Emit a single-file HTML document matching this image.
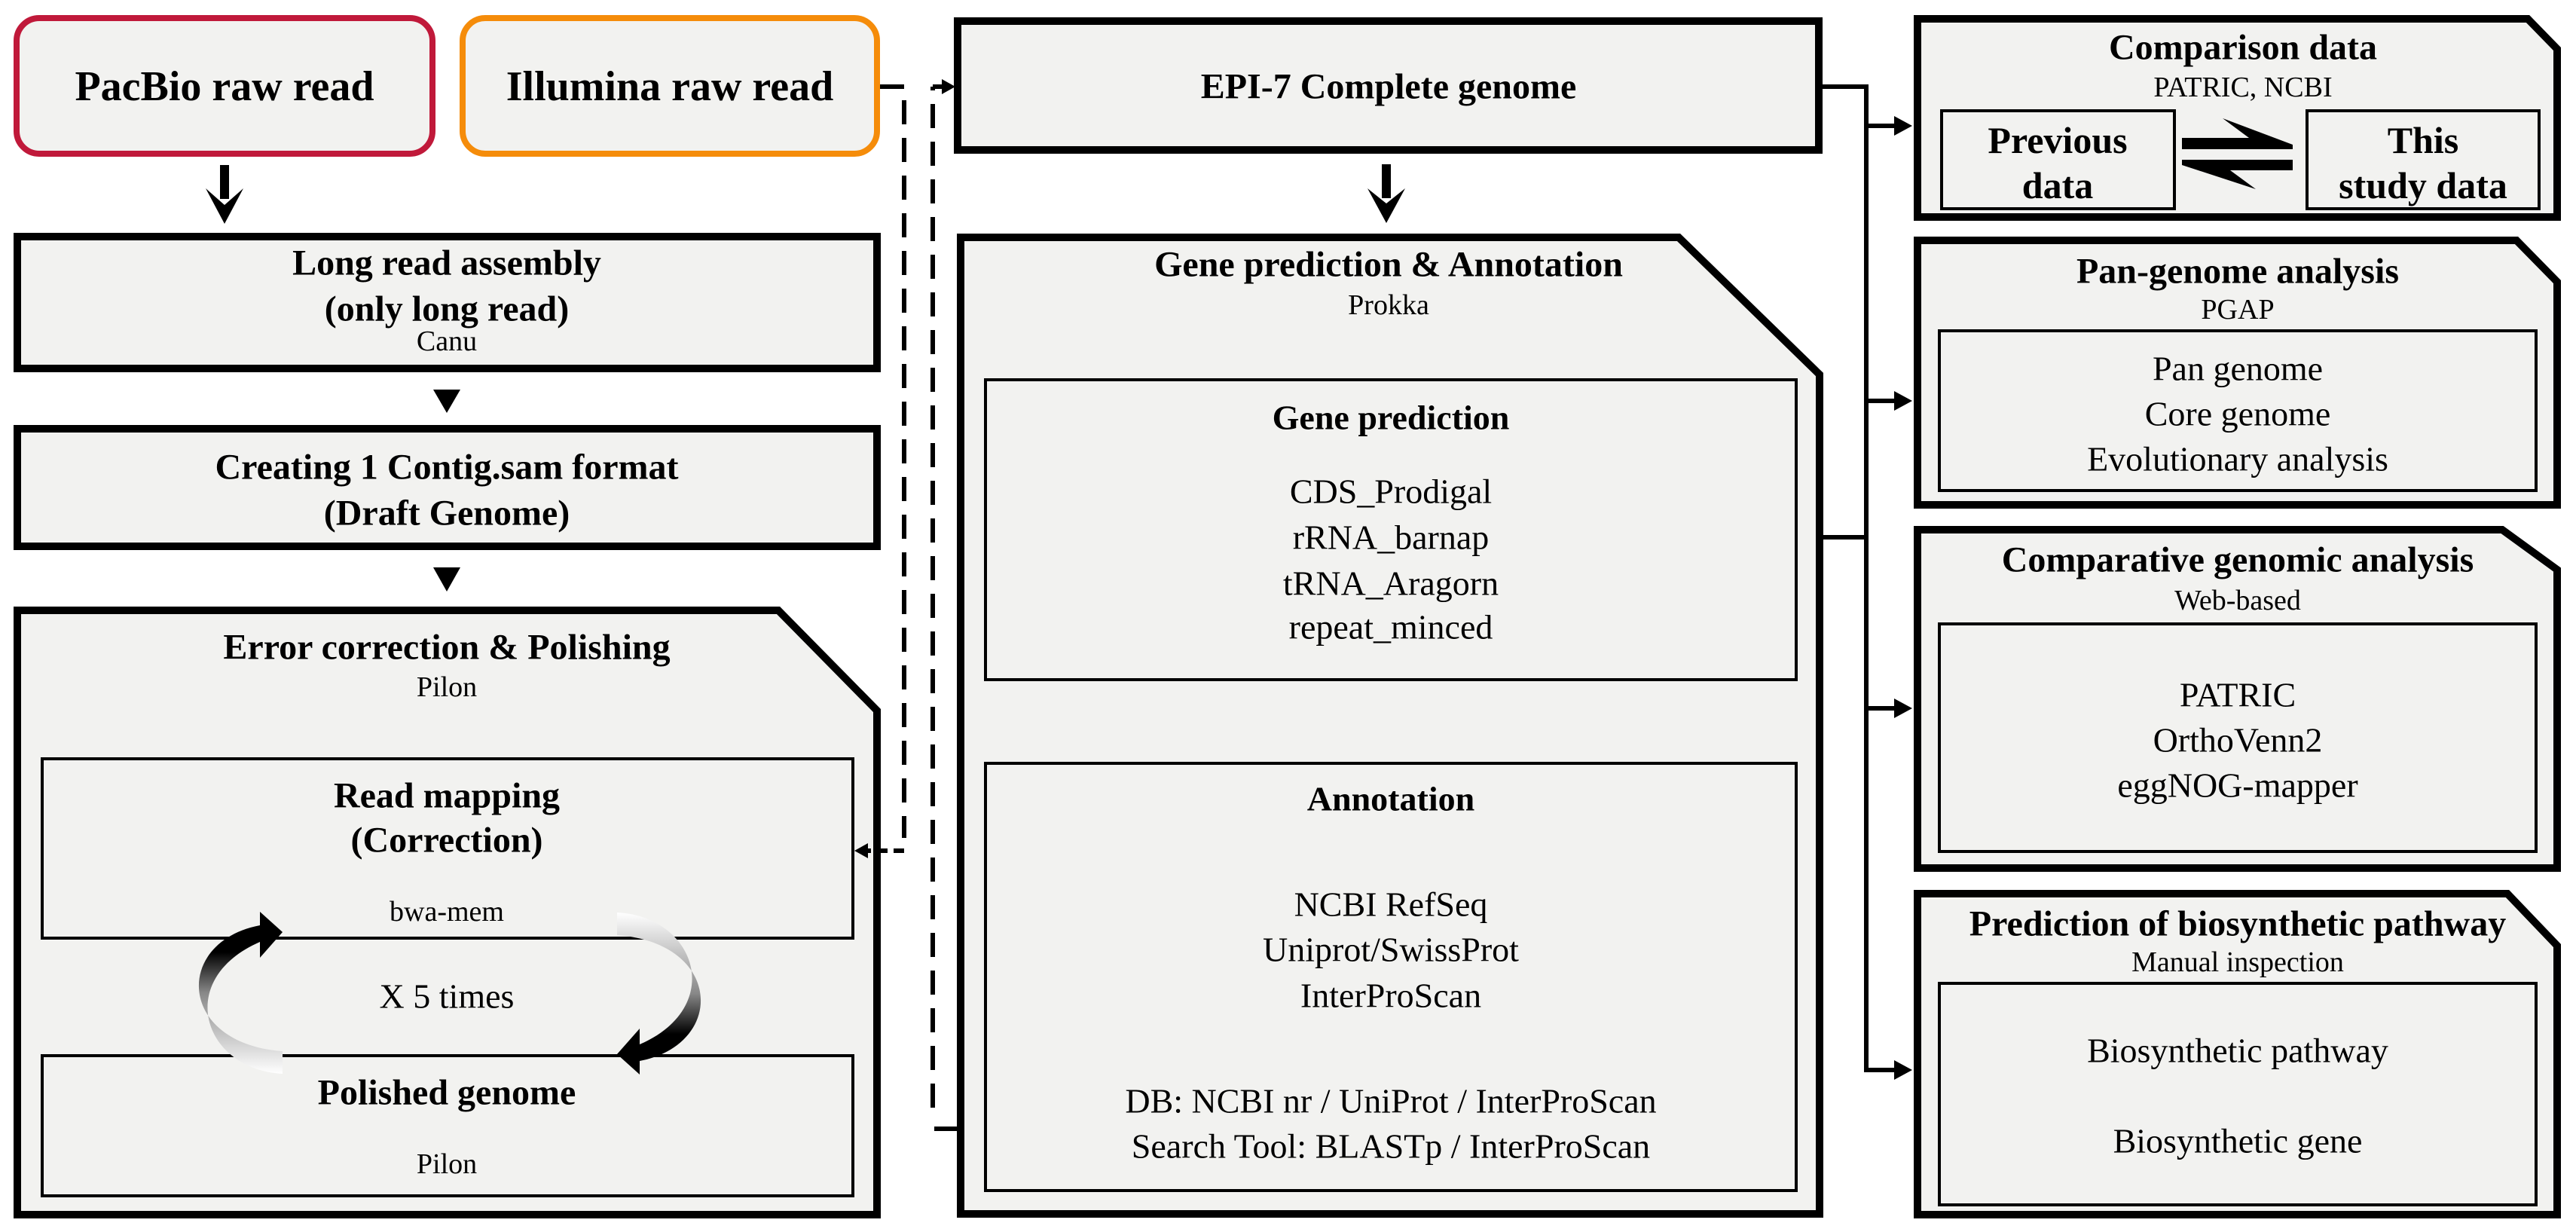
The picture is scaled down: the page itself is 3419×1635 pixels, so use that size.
<!DOCTYPE html>
<html><head><meta charset="utf-8"><style>html,body{margin:0;padding:0;background:#fff}svg{display:block}svg,svg text{font-family:"Liberation Serif","Times New Roman",serif}</style></head><body>
<svg width="3419" height="1635" viewBox="0 0 3419 1635" xmlns="http://www.w3.org/2000/svg">
<defs>
<linearGradient id="g1" x1="0" y1="1" x2="0" y2="0"><stop offset="0" stop-color="#fff"/><stop offset="0.5" stop-color="#888"/><stop offset="0.75" stop-color="#000"/></linearGradient>
</defs>
<g fill="#f2f2f0" stroke="#000">
<rect x="22" y="24" width="552" height="180" rx="30" stroke="#c0193a" stroke-width="8"/>
<rect x="614" y="24" width="550" height="180" rx="30" stroke="#f58c0a" stroke-width="8"/>
<rect x="23" y="314" width="1141" height="175" stroke-width="10"/>
<rect x="23" y="569" width="1141" height="156" stroke-width="10"/>
<path d="M23 810 L1033 810 L1164 943 L1164 1612 L23 1612 Z" stroke-width="10"/>
<rect x="56" y="1007" width="1076" height="238" stroke-width="4"/>
<rect x="56" y="1401" width="1076" height="186" stroke-width="4"/>
<rect x="1271" y="28" width="1143" height="171" stroke-width="10"/>
<path d="M1275 315 L2228 315 L2415 497 L2415 1611 L1275 1611 Z" stroke-width="10"/>
<rect x="1308" y="504" width="1076" height="398" stroke-width="4"/>
<rect x="1308" y="1013" width="1076" height="567" stroke-width="4"/>
<path d="M2545 25 L3355 25 L3394 65 L3394 288 L2545 288 Z" stroke-width="10"/>
<rect x="2577" y="147" width="309" height="130" stroke-width="4"/>
<rect x="3062" y="147" width="308" height="130" stroke-width="4"/>
<path d="M2545 319 L3340 319 L3394 374 L3394 670 L2545 670 Z" stroke-width="10"/>
<rect x="2574" y="439" width="792" height="212" stroke-width="4"/>
<path d="M2545 703 L3321 703 L3394 756 L3394 1152 L2545 1152 Z" stroke-width="10"/>
<rect x="2574" y="828" width="792" height="302" stroke-width="4"/>
<path d="M2545 1186 L3328 1186 L3394 1255 L3394 1612 L2545 1612 Z" stroke-width="10"/>
<rect x="2574" y="1305" width="792" height="294" stroke-width="4"/>
</g>
<rect x="292" y="219" width="12" height="45"/>
<polygon points="273,250 298,272 323,250 298,297"/>
<polygon points="575,517 611,517 593,548"/>
<polygon points="575,753 611,753 593,785"/>
<rect x="1834" y="218" width="12" height="45"/>
<polygon points="1815,250 1840,270 1865,250 1840,296"/>
<g stroke="#000" stroke-width="6" fill="none" stroke-dasharray="32 18">
<path d="M1168 115 L1200 115 L1200 1112"/>
<path d="M1238 1470 L1238 115"/>
</g>
<path d="M1200 1129 L1150 1129" stroke="#000" stroke-width="6" stroke-dasharray="14 8"/>
<polygon points="1134,1129 1152,1119 1152,1139"/>
<path d="M1238 115 L1252 115" stroke="#000" stroke-width="6"/>
<polygon points="1268,115 1250,105 1250,125"/>
<path d="M1240 1498 L1272 1498" stroke="#000" stroke-width="6"/>
<g stroke="#000" stroke-width="6" fill="none">
<path d="M2414 115 L2477 115 L2477 1420 L2515 1420"/>
<path d="M2477 167 L2515 167 M2477 532 L2515 532 M2477 940 L2515 940 M2415 713 L2477 713"/>
</g>
<polygon points="2538,167 2514,154 2514,180"/>
<polygon points="2538,532 2514,519 2514,545"/>
<polygon points="2538,940 2514,927 2514,953"/>
<polygon points="2538,1420 2514,1407 2514,1433"/>
<polygon points="2896,183 2985,183 2950,157 3043,192 3043,198 2896,198"/>
<polygon points="3043,212 3043,226 2960,226 2994,251 2896,219 2896,212"/>
<path d="M375 1425 C270 1420 230 1300 345 1250 L345 1271 L375 1237 L345 1210 L345 1228 C230 1250 235 1385 375 1395 Z" fill="url(#g1)"/>
<g transform="rotate(180 597 1318)"><path d="M375 1425 C270 1420 230 1300 345 1250 L345 1271 L375 1237 L345 1210 L345 1228 C230 1250 235 1385 375 1395 Z" fill="url(#g1)"/></g>
<g text-anchor="middle" dominant-baseline="central" fill="#000">
<g font-weight="bold">
<text x="298" y="115" font-size="56">PacBio raw read</text>
<text x="889" y="115" font-size="56">Illumina raw read</text>
<text x="593" y="349" font-size="48">Long read assembly</text>
<text x="593" y="410" font-size="48">(only long read)</text>
<text x="593" y="620" font-size="48">Creating 1 Contig.sam format</text>
<text x="593" y="681" font-size="48">(Draft Genome)</text>
<text x="593" y="859" font-size="48">Error correction &amp; Polishing</text>
<text x="593" y="1056" font-size="48">Read mapping</text>
<text x="593" y="1115" font-size="48">(Correction)</text>
<text x="593" y="1450" font-size="48">Polished genome</text>
<text x="1843" y="115" font-size="48">EPI-7 Complete genome</text>
<text x="1843" y="351" font-size="48">Gene prediction &amp; Annotation</text>
<text x="1846" y="554" font-size="46">Gene prediction</text>
<text x="1846" y="1060" font-size="46">Annotation</text>
<text x="2977" y="63" font-size="48">Comparison data</text>
<text x="2731" y="186" font-size="50">Previous</text>
<text x="2731" y="246" font-size="50">data</text>
<text x="3216" y="186" font-size="50">This</text>
<text x="3216" y="246" font-size="50">study data</text>
<text x="2970" y="360" font-size="48">Pan-genome analysis</text>
<text x="2970" y="743" font-size="48">Comparative genomic analysis</text>
<text x="2970" y="1226" font-size="48">Prediction of biosynthetic pathway</text>
</g>
<text x="593" y="453" font-size="38">Canu</text>
<text x="593" y="912" font-size="38">Pilon</text>
<text x="593" y="1210" font-size="38">bwa-mem</text>
<text x="593" y="1322" font-size="46">X 5 times</text>
<text x="593" y="1545" font-size="38">Pilon</text>
<text x="1843" y="405" font-size="38">Prokka</text>
<g font-size="46">
<text x="1846" y="652">CDS_Prodigal</text>
<text x="1846" y="713">rRNA_barnap</text>
<text x="1846" y="774">tRNA_Aragorn</text>
<text x="1846" y="832">repeat_minced</text>
<text x="1846" y="1200">NCBI RefSeq</text>
<text x="1846" y="1260">Uniprot/SwissProt</text>
<text x="1846" y="1321">InterProScan</text>
<text x="1846" y="1461">DB: NCBI nr / UniProt / InterProScan</text>
<text x="1846" y="1521">Search Tool: BLASTp / InterProScan</text>
<text x="2970" y="489">Pan genome</text>
<text x="2970" y="549">Core genome</text>
<text x="2970" y="609">Evolutionary analysis</text>
<text x="2970" y="922">PATRIC</text>
<text x="2970" y="982">OrthoVenn2</text>
<text x="2970" y="1042">eggNOG-mapper</text>
<text x="2970" y="1394">Biosynthetic pathway</text>
<text x="2970" y="1514">Biosynthetic gene</text>
</g>
<text x="2977" y="116" font-size="38">PATRIC, NCBI</text>
<text x="2970" y="411" font-size="38">PGAP</text>
<text x="2970" y="797" font-size="38">Web-based</text>
<text x="2970" y="1277" font-size="38">Manual inspection</text>
</g>
</svg>
</body></html>
